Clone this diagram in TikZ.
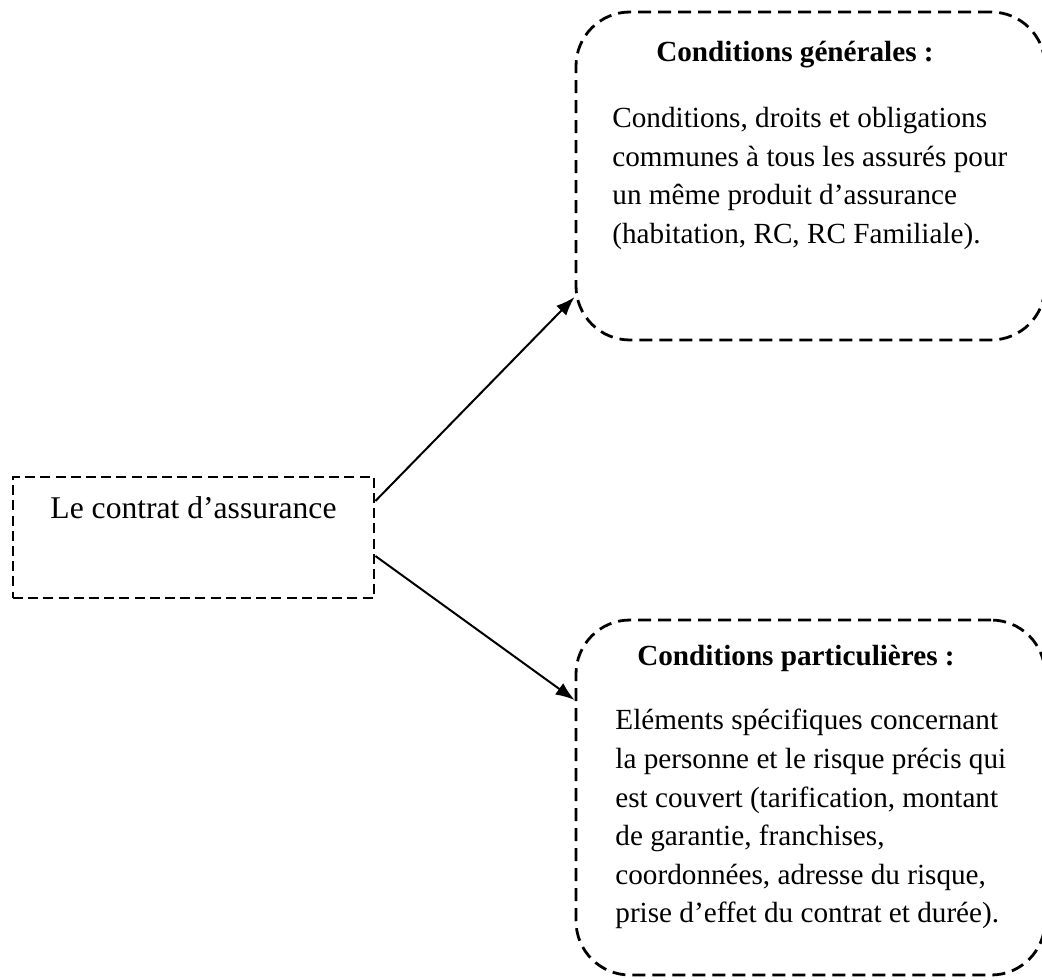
\documentclass[tikz,border=0pt]{standalone}
\usepackage{fontspec}
\setmainfont{Liberation Serif}
\usetikzlibrary{arrows.meta,positioning}
\def\largeur{1042}
\def\hauteur{979}

\tikzset{
  boite/.style={draw, line width=1.4pt, dash pattern=on 5pt off 2.6pt, minimum width=180.5pt, minimum height=60.5pt, inner sep=0pt},
  bulle/.style={draw, line width=1.4pt, dash pattern=on 6.5pt off 3.5pt, rounded corners=27pt, minimum width=234.5pt, inner sep=0pt},
  titre/.style={font=\fontsize{14.6}{19.3}\selectfont\bfseries, inner sep=0pt},
  texte/.style={font=\fontsize{14.6}{19.3}\selectfont, align=left, anchor=north west, inner sep=0pt},
  fleche/.style={-{Latex[length=9.5pt,width=7pt]}, line width=1pt},
}

\begin{document}
\begin{tikzpicture}[x=0.5pt, y=-0.5pt]
\useasboundingbox (0,0) rectangle (\largeur,\hauteur);

% le contrat
\node[boite] (contrat) at (193.5,537.5) {};
\node[font=\fontsize{15.8}{19}\selectfont, inner sep=0pt] (contratlbl) at (193.5,508) {Le contrat d’assurance};

% conditions generales
\node[bulle, minimum height=164pt] (generales) at (810.5,176) {};
\node[titre] (titregen) at (795,55) {Conditions générales :};
\node[texte] (textegen) at (612,107) {Conditions, droits et obligations\\communes à tous les assurés pour\\un même produit d’assurance\\(habitation, RC, RC Familiale).};

% conditions particulieres
\node[bulle, minimum height=177.5pt] (particulieres) at (810.5,797.5) {};
\node[titre] (titrepart) at (796,658) {Conditions particulières :};
\node[texte] (textepart) at (615,709) {Eléments spécifiques concernant\\la personne et le risque précis qui\\est couvert (tarification, montant\\de garantie, franchises,\\coordonnées, adresse du risque,\\prise d’effet du contrat et durée).};

\draw[fleche] ([yshift=18.25pt]contrat.east) -- ([yshift=-60.5pt]generales.west);
\draw[fleche] ([yshift=-9.25pt]contrat.east) -- ([yshift=48.75pt]particulieres.west);
\end{tikzpicture}
\end{document}
